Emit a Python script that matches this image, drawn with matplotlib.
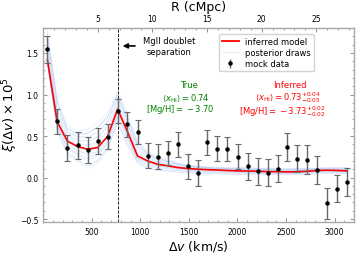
import numpy as np
import matplotlib
matplotlib.use("Agg")
import matplotlib.pyplot as plt
from matplotlib.lines import Line2D

# ---- data ----
dv = [44, 146, 249, 356, 459, 562, 664, 767, 866, 972, 1075, 1178, 1288, 1390, 1493,
      1596, 1688, 1795, 1898, 2007, 2110, 2213, 2315, 2418, 2515, 2617, 2720, 2823,
      2925, 3028, 3131]
xi_data = [1.546, 0.675, 0.361, 0.389, 0.333, 0.441, 0.494, 0.802, 0.642, 0.55, 0.26,
           0.253, 0.293, 0.40, 0.133, 0.055, 0.422, 0.349, 0.341, 0.253, 0.133, 0.076,
           0.06, 0.108, 0.369, 0.229, 0.212, 0.092, -0.31, -0.133, -0.053]
xi_err = [0.163, 0.155, 0.157, 0.165, 0.159, 0.155, 0.15, 0.145, 0.148, 0.147, 0.151,
          0.15, 0.146, 0.154, 0.145, 0.154, 0.15, 0.152, 0.144, 0.155, 0.16, 0.16,
          0.16, 0.16, 0.165, 0.165, 0.175, 0.17, 0.185, 0.165, 0.17]
xi_model = [1.42, 0.67, 0.44, 0.373, 0.341, 0.361, 0.494, 0.823, 0.56, 0.26, 0.20, 0.16,
            0.14, 0.12, 0.108, 0.10, 0.095, 0.09, 0.085, 0.08, 0.078, 0.075, 0.072,
            0.07, 0.068, 0.07, 0.075, 0.085, 0.088, 0.085, 0.08]
draws_upper = [1.78, 0.95, 0.62, 0.56, 0.58, 0.67, 0.79, 1.05, 0.78, 0.45, 0.32, 0.25,
               0.22, 0.18, 0.15, 0.14, 0.13, 0.125, 0.12, 0.12, 0.12, 0.115, 0.115,
               0.115, 0.11, 0.11, 0.11, 0.115, 0.12, 0.12, 0.12]
draws_lower = [1.38, 0.55, 0.28, 0.18, 0.10, 0.17, 0.33, 0.64, 0.38, 0.17, 0.10, 0.08,
               0.07, 0.06, 0.05, 0.045, 0.04, 0.04, 0.035, 0.035, 0.035, 0.035, 0.035,
               0.035, 0.035, 0.035, 0.04, 0.045, 0.045, 0.045, 0.045]
# blend weights (start, end) of the posterior draws between lower (-1), model (0), upper (+1)
draw_weights = [(-1.0, -0.8), (-0.8, -1.0), (-0.6, -0.3), (-0.45, -0.7), (-0.3, -0.1),
                (-0.2, -0.5), (-0.1, 0.2), (0.05, -0.2), (0.15, 0.35), (0.25, 0.0),
                (0.35, 0.6), (0.45, 0.2), (0.55, 0.8), (0.65, 0.45), (0.75, 1.0),
                (0.85, 0.6), (1.0, 0.9), (-0.9, -0.4), (0.9, 0.3), (-0.5, 0.1)]
dv_doublet = 768
kms_per_cMpc = 112.5

dv_a = np.array(dv, float)
M = np.array(xi_model)
U = np.array(draws_upper)
L = np.array(draws_lower)

fig = plt.figure(figsize=(3.59, 2.55), dpi=100)
ax = fig.add_axes([0.12, 0.124, 0.866, 0.762])

n = len(dv)
t = np.linspace(0, 1, n)
for a, b in draw_weights:
    w = a + (b - a) * t
    d = np.where(w >= 0, M + w * (U - M), M + (-w) * (L - M))
    ax.plot(dv_a, d, color='cornflowerblue', alpha=0.17, lw=0.5, zorder=1)

ax.plot(dv_a, M, color='red', lw=1.2, zorder=3)
ax.errorbar(dv_a, xi_data, yerr=xi_err, fmt='o', color='black', ms=2.2,
            ecolor='dimgray', elinewidth=1.0, capsize=2.2, capthick=0.8, zorder=4)

ax.axvline(dv_doublet, color='black', ls='--', lw=0.6, zorder=2)

ax.set_xlim(0, 3200)
ax.set_ylim(-0.54, 1.8)
ax.set_xticks([500, 1000, 1500, 2000, 2500, 3000])
ax.set_yticks([-0.5, 0.0, 0.5, 1.0, 1.5])
ax.minorticks_on()
ax.tick_params(which='both', direction='in', colors='gray', labelcolor='black',
               labelsize=5.5, top=False, right=True)
ax.tick_params(which='major', length=3, width=0.6)
ax.tick_params(which='minor', length=1.5, width=0.5)
for s in ax.spines.values():
    s.set_color('darkgray')
    s.set_linewidth(1.0)

ax.set_xlabel(r'$\Delta v$ (km/s)', fontsize=9, labelpad=1)
ax.set_ylabel(r'$\xi(\Delta v)\times 10^5$', fontsize=9.5)
ax.yaxis.set_label_coords(-0.075, 0.56)

sec = ax.secondary_xaxis('top', functions=(lambda v: v / kms_per_cMpc,
                                           lambda r: r * kms_per_cMpc))
sec.set_xticks([5, 10, 15, 20, 25])
sec.minorticks_on()
sec.tick_params(which='both', direction='in', colors='gray', labelcolor='black',
                labelsize=5.5)
sec.tick_params(which='major', length=3, width=0.6)
sec.tick_params(which='minor', length=1.5, width=0.5)
sec.spines['top'].set_color('darkgray')
sec.set_xlabel('R (cMpc)', fontsize=9, labelpad=3)

ax.annotate('', xy=(790, 1.585), xytext=(975, 1.585),
            arrowprops=dict(arrowstyle='-|>', color='black', lw=1.2,
                            mutation_scale=7))
ax.text(1295, 1.58, 'MgII doublet\nseparation', fontsize=6, ha='center',
        va='center', linespacing=1.25)

g = 'green'
ax.text(1500, 1.115, 'True', color=g, fontsize=6, ha='center', va='center')
ax.text(1470, 0.975, r'$\langle x_{\rm HI}\rangle = 0.74$', color=g, fontsize=6,
        ha='center', va='center')
ax.text(1410, 0.835, r'$[{\rm Mg/H}] = \:-\:3.70$', color=g, fontsize=6,
        ha='center', va='center')
r = 'red'
ax.text(2540, 1.115, 'Inferred', color=r, fontsize=6, ha='center', va='center')
ax.text(2517, 0.98, r'$\langle x_{\rm HI}\rangle = 0.73^{+0.04}_{-0.05}$', color=r,
        fontsize=6, ha='center', va='center')
ax.text(2466, 0.805, r'$[{\rm Mg/H}] = \:-\:3.73^{+0.02}_{-0.02}$', color=r,
        fontsize=6, ha='center', va='center')

h1 = Line2D([], [], color='red', lw=1.3)
h2 = Line2D([], [], color='cornflowerblue', alpha=0.12, lw=1.0)
h3 = ax.errorbar([], [], yerr=[], fmt='o', color='black', ms=2.2, ecolor='dimgray',
                 elinewidth=1.0, capsize=2.2, capthick=0.8)
ax.legend([h1, h2, h3], ['inferred model', 'posterior draws', 'mock data'],
          loc='upper right', bbox_to_anchor=(0.885, 0.99), fontsize=6,
          frameon=True, edgecolor='lightgray', framealpha=1, borderpad=0.35,
          handlelength=2.0, labelspacing=0.25)

fig.savefig('out.png', dpi=100)
